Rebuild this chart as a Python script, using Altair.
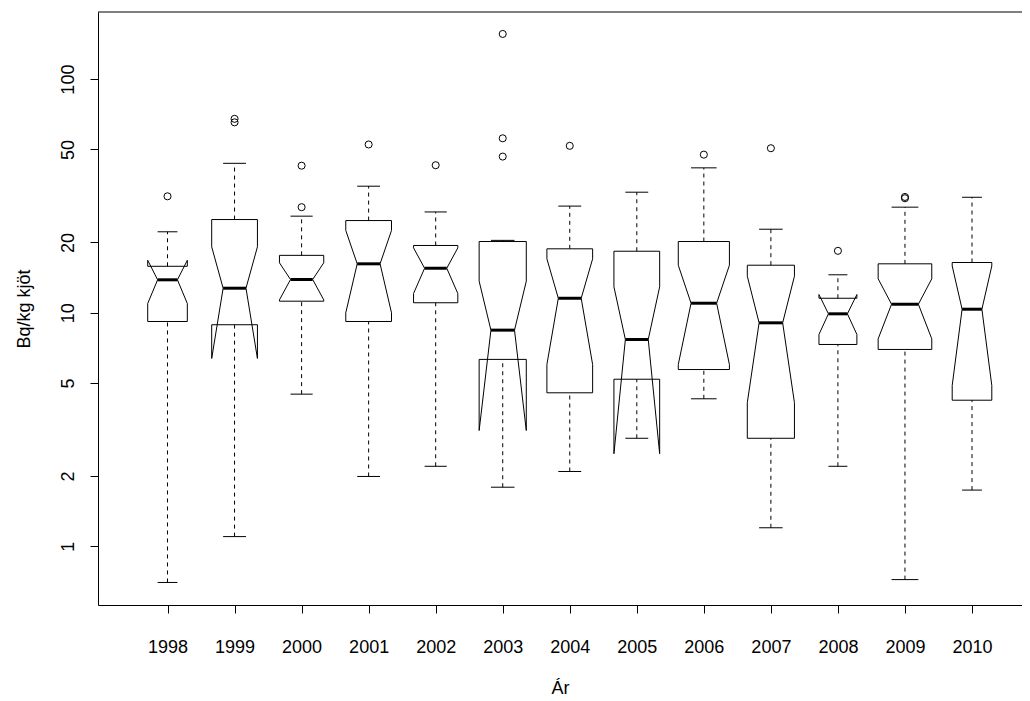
import altair as alt
import numpy as np
import pandas as pd

# ---- data (Bq/kg kjöt per year) ----
years = [1998, 1999, 2000, 2001, 2002, 2003, 2004, 2005, 2006, 2007, 2008, 2009, 2010]
n_samples = [12, 16, 15, 16, 15, 17, 16, 16, 20, 17, 11, 22, 12]
lower_whisker = [0.70, 1.10, 4.48, 1.99, 2.20, 1.79, 2.09, 2.90, 4.28, 1.20, 2.20, 0.72, 1.74]
q1 = [9.17, 8.88, 11.2, 9.17, 11.03, 6.31, 4.54, 5.19, 5.71, 2.90, 7.31, 6.96, 4.22]
median = [13.83, 12.73, 13.87, 16.19, 15.5, 8.42, 11.53, 7.68, 10.98, 9.05, 9.89, 10.87, 10.35]
q3 = [15.8, 25.05, 17.6, 24.8, 19.4, 20.17, 18.77, 18.33, 20.17, 15.97, 11.53, 16.19, 16.4]
upper_whisker = [22.2, 43.6, 25.9, 34.8, 27.0, 20.4, 28.6, 32.8, 41.7, 22.77, 14.53, 28.3, 31.2]
notch_lo = [10.95, 6.37, 11.35, 9.99, 12.08, 3.13, 6.0, 2.49, 6.0, 4.12, 8.07, 7.73, 4.88]
notch_hi = [16.77, 19.14, 16.35, 22.5, 18.95, 13.64, 17.01, 12.91, 15.97, 14.33, 11.96, 13.97, 15.85]
outlier_years = [1998, 1999, 1999, 2000, 2000, 2001, 2002, 2003, 2003, 2003,
                 2004, 2006, 2007, 2008, 2009, 2009]
outlier_values = [31.5, 67.6, 65.3, 42.6, 28.3, 52.5, 42.8, 156.1, 55.8, 46.6,
                  51.8, 47.5, 50.6, 18.4, 31.3, 30.9]
y_ticks = [1, 2, 5, 10, 20, 50, 100]

# ---- boxplot geometry (R bxp style, varwidth + notch) ----
BOXWEX = 0.8
NOTCH_FRAC = 0.5
STAPLE_WEX = 0.5
nmax = max(n_samples)
half = [BOXWEX / 2 * np.sqrt(n / nmax) for n in n_samples]

poly_rows, med_rows, whisk_rows, staple_rows = [], [], [], []
fx = [-1, 1, 1, NOTCH_FRAC, 1, 1, -1, -1, -NOTCH_FRAC, -1, -1]
for i, yr in enumerate(years):
    h = half[i]
    fy = [q1[i], q1[i], notch_lo[i], median[i], notch_hi[i], q3[i], q3[i],
          notch_hi[i], median[i], notch_lo[i], q1[i]]
    for k, (a, b) in enumerate(zip(fx, fy)):
        poly_rows.append({"year": yr, "k": k, "x": yr + a * h, "y": b})
    med_rows.append({"x": yr - NOTCH_FRAC * h, "x2": yr + NOTCH_FRAC * h, "y": median[i]})
    whisk_rows.append({"x": yr, "y": q3[i], "y2": upper_whisker[i]})
    whisk_rows.append({"x": yr, "y": lower_whisker[i], "y2": q1[i]})
    for v in (upper_whisker[i], lower_whisker[i]):
        staple_rows.append({"x": yr - STAPLE_WEX * h, "x2": yr + STAPLE_WEX * h, "y": v})

poly = pd.DataFrame(poly_rows)
meds = pd.DataFrame(med_rows)
whisk = pd.DataFrame(whisk_rows)
staples = pd.DataFrame(staple_rows)
outs = pd.DataFrame({"x": outlier_years, "y": outlier_values})

W, H = 924, 593
PX_PER_YEAR = 67.04
x_lo = 1996.963
x_hi = x_lo + W / PX_PER_YEAR
xscale = alt.Scale(domain=[x_lo, x_hi], nice=False, zero=False)
yscale = alt.Scale(type="log", domain=[0.5605, 193.8], nice=False)

FONT = "Liberation Sans"
FS = 18
common = dict(labelFont=FONT, titleFont=FONT, labelFontSize=FS, titleFontSize=FS,
              labelColor="black", titleColor="black", domainColor="black", tickColor="black",
              domainWidth=1, tickWidth=1, grid=False, titleFontWeight="normal",
              domain=True, ticks=True, labels=True, tickSize=8)

x_axis = alt.Axis(values=years, format="d", labelPadding=25, labelAngle=0,
                  labelFlush=False, labelOverlap=False, title="Ár",
                  titleX=462, titleY=88, titleBaseline="alphabetic", titleAlign="center",
                  **common)
y_axis = alt.Axis(values=y_ticks, format="d", labelPadding=17, labelAngle=270,
                  labelAlign="center", labelBaseline="alphabetic",
                  title="Bq/kg kjöt", titleAngle=270, titleAlign="center",
                  titleBaseline="alphabetic", titleX=-69, titleY=H / 2,
                  **common)

boxes = alt.Chart(poly).mark_line(color="black", strokeWidth=1, strokeJoin="miter").encode(
    detail="year:N",
    order=alt.Order("k:Q"),
)

medians = alt.Chart(meds).mark_rule(color="black", strokeWidth=3, strokeCap="butt").encode(
    x2="x2:Q",
)

whiskers = alt.Chart(whisk).mark_rule(color="black", strokeWidth=1, strokeDash=[4, 4]).encode(
    y2="y2:Q",
)

staple_marks = alt.Chart(staples).mark_rule(color="black", strokeWidth=1).encode(
    x2="x2:Q",
)

outliers = alt.Chart(outs).mark_point(shape="circle", filled=False, size=50, color="black",
                                      strokeWidth=1, opacity=1)

top_line = alt.Chart(pd.DataFrame({"x": [x_lo], "x2": [x_hi], "y": [193.8]})).mark_rule(
    color="black", strokeWidth=1).encode(x2="x2:Q")

chart = alt.layer(boxes, whiskers, staple_marks, medians, outliers, top_line).encode(
    x=alt.X("x:Q", scale=xscale, axis=x_axis),
    y=alt.Y("y:Q", scale=yscale, axis=y_axis),
).properties(
    width=W, height=H,
    autosize=alt.AutoSizeParams(type="none"),
    padding={"left": 90, "top": 4, "right": 0, "bottom": 95},
    background="white",
).configure_view(strokeWidth=0)

chart.save("out.html", embed_options={"renderer": "svg", "actions": False})
